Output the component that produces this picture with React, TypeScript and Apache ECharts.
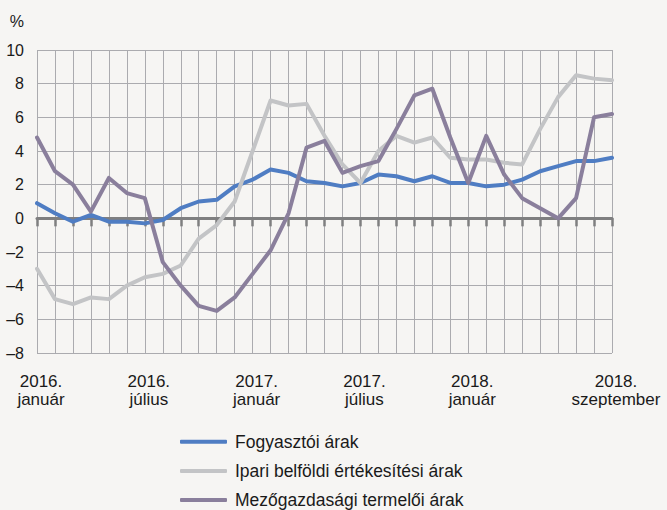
import React, { useEffect, useRef } from "react";
import * as echarts from "echarts";

const years = [2016, 2017, 2018];
const monthNames = [
  "január", "február", "március", "április", "május", "június",
  "július", "augusztus", "szeptember", "október", "november", "december",
];
const months: string[] = [];
for (const y of years) {
  for (const m of monthNames) {
    if (months.length < 33) months.push(`${y}. ${m}`);
  }
}
const labeledIdx = [0, 6, 12, 18, 24, 32];

const seriesNames = [
  "Fogyasztói árak",
  "Ipari belföldi értékesítési árak",
  "Mezőgazdasági termelői árak",
];

const fogyasztoi = [
  0.9, 0.3, -0.2, 0.2, -0.2, -0.2, -0.3, -0.1, 0.6, 1.0, 1.1, 1.9,
  2.3, 2.9, 2.7, 2.2, 2.1, 1.9, 2.1, 2.6, 2.5, 2.2, 2.5, 2.1,
  2.1, 1.9, 2.0, 2.3, 2.8, 3.1, 3.4, 3.4, 3.6,
];
const ipari = [
  -3.0, -4.8, -5.1, -4.7, -4.8, -4.0, -3.5, -3.3, -2.8, -1.2, -0.4, 1.0,
  4.0, 7.0, 6.7, 6.8, 4.9, 3.2, 2.1, 4.0, 4.9, 4.5, 4.8, 3.6,
  3.5, 3.5, 3.3, 3.2, 5.3, 7.2, 8.5, 8.3, 8.2,
];
const mezogazdasagi = [
  4.8, 2.8, 2.0, 0.4, 2.4, 1.5, 1.2, -2.6, -4.0, -5.2, -5.5, -4.7,
  -3.3, -1.9, 0.3, 4.2, 4.6, 2.7, 3.1, 3.4, 5.3, 7.3, 7.7, 4.8,
  2.1, 4.9, 2.6, 1.2, 0.6, 0.0, 1.2, 6.0, 6.2,
];

const colors = ["#4F7DC3", "#C3C4C6", "#8A7F9C"];
const gridColor = "#ABABAF";
const font = "'Liberation Sans', Arial, sans-serif";
const legendRowCenters = [441.7, 471, 500];

export default function App() {
  const ref = useRef<HTMLDivElement>(null);
  useEffect(() => {
    document.body.style.margin = "0";
    if (!ref.current) return;
    const chart = echarts.init(ref.current, undefined, { renderer: "svg" });
    chart.setOption({
      animation: false,
      backgroundColor: "#F6F5F3",
      grid: { left: 37, right: 55, top: 50, bottom: 157 },
      graphic: [
        {
          type: "text",
          x: 24,
          y: 21,
          style: {
            text: "%",
            fontFamily: font,
            fontSize: 16,
            fill: "#1a1a1a",
            textAlign: "right",
            textVerticalAlign: "middle",
          },
        },
      ],
      legend: seriesNames.map((n, k) => ({
        orient: "vertical",
        left: 180,
        top: legendRowCenters[k] - 10,
        padding: 0,
        icon: "roundRect",
        itemWidth: 47,
        itemHeight: 4,
        data: [n],
        textStyle: {
          fontFamily: font,
          fontSize: 17.5,
          color: "#1a1a1a",
          lineHeight: 20,
          padding: [0, 0, 0, 3],
        },
      })),
      xAxis: [
        {
          type: "category",
          data: months,
          boundaryGap: false,
          axisLine: { show: false, onZero: false },
          axisTick: { show: false },
          axisLabel: {
            interval: 0,
            margin: 19.3,
            fontFamily: font,
            fontSize: 17,
            lineHeight: 18,
            color: "#1a1a1a",
            padding: [0, 0, 0, 8],
            formatter: (v: string, i: number) =>
              labeledIdx.includes(i) ? v.replace(". ", ".\n") : "",
          },
          splitLine: {
            show: true,
            interval: 0,
            lineStyle: { color: gridColor, width: 1 },
          },
        },
        {
          type: "category",
          data: months,
          boundaryGap: false,
          position: "bottom",
          axisLine: {
            show: true,
            onZero: true,
            lineStyle: { color: "#7F7F80", width: 3 },
          },
          axisTick: {
            show: true,
            interval: 0,
            length: 8,
            lineStyle: { color: "#7F7F80", width: 2.5 },
          },
          axisLabel: { show: false },
          splitLine: { show: false },
        },
      ],
      yAxis: {
        type: "value",
        min: -8,
        max: 10,
        interval: 2,
        axisLine: { show: false },
        axisTick: { show: false },
        axisLabel: {
          margin: 13,
          fontFamily: font,
          fontSize: 16,
          color: "#1a1a1a",
          formatter: (v: number) => (v < 0 ? "–" + Math.abs(v) : String(v)),
        },
        splitLine: { lineStyle: { color: gridColor, width: 1 } },
      },
      series: [fogyasztoi, ipari, mezogazdasagi].map((d, k) => ({
        name: seriesNames[k],
        type: "line",
        xAxisIndex: 0,
        data: d,
        symbol: "none",
        color: colors[k],
        lineStyle: { color: colors[k], width: 4, cap: "round", join: "round" },
        z: 3 + k,
      })),
    });
    return () => chart.dispose();
  }, []);
  return <div ref={ref} style={{ width: 667, height: 510 }} />;
}
